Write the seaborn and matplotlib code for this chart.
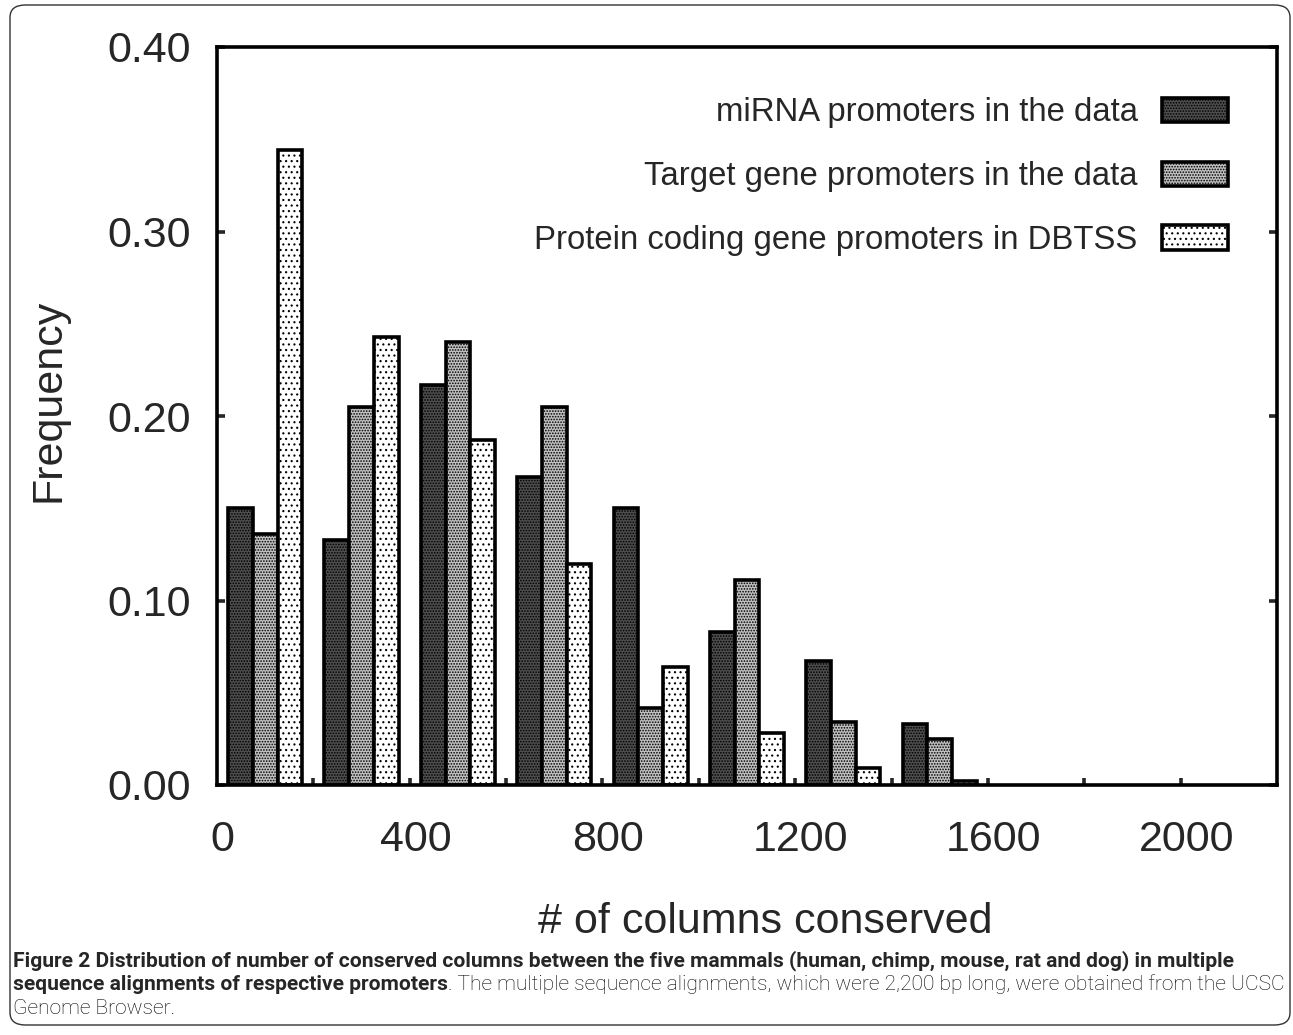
import seaborn as sns
import matplotlib.pyplot as plt
import pandas as pd
from matplotlib.patches import Patch, FancyBboxPatch

# Values (frequency per 200-column bin)
bins = ['0', '200', '400', '600', '800', '1000', '1200', '1400']
mirna = [0.150, 0.133, 0.217, 0.167, 0.150, 0.083, 0.067, 0.033]
target = [0.136, 0.205, 0.240, 0.205, 0.042, 0.111, 0.034, 0.025]
dbtss = [0.344, 0.243, 0.187, 0.120, 0.064, 0.028, 0.009, 0.002]
series_names = ['miRNA promoters in the data',
                'Target gene promoters in the data',
                'Protein coding gene promoters in DBTSS']
xtick_labels = ['0', '400', '800', '1200', '1600', '2000']
ytick_values = [0.0, 0.1, 0.2, 0.3, 0.4]

caption_bold1 = ('Figure 2 Distribution of number of conserved columns between the five mammals '
                 '(human, chimp, mouse, rat and dog) in multiple')
caption_bold2 = 'sequence alignments of respective promoters'
caption_rest2 = ('. The multiple sequence alignments, which were 2,200 bp long, were obtained '
                 'from the UCSC')
caption_rest3 = 'Genome Browser.'

# Long table for seaborn
df = pd.DataFrame({
    'bin': bins * 3,
    'freq': mirna + target + dbtss,
    'series': [series_names[0]] * len(bins) + [series_names[1]] * len(bins) + [series_names[2]] * len(bins),
})

sns.set_style('white')
plt.rcParams['font.family'] = ['Liberation Sans', 'DejaVu Sans']
plt.rcParams['hatch.color'] = 'black'
plt.rcParams['hatch.linewidth'] = 0.8

fills = ['#4e4e4e', '#c0c0c0', '#ffffff']
hatches = ['......', '......', '...']
lw = 2.6

fig = plt.figure(figsize=(12.93, 10.35), dpi=100)
ax = fig.add_axes([217 / 1293, 1 - 785 / 1035, (1277 - 217) / 1293, (785 - 47) / 1035])

sns.barplot(data=df, x='bin', y='freq', hue='series', hue_order=series_names,
            palette=fills, saturation=1, width=0.77, edgecolor='black',
            linewidth=lw, legend=False, ax=ax)

for cont, h in zip(ax.containers, hatches):
    for bar in cont:
        bar.set_hatch(h)

# axes look (gnuplot style)
ax.set_xlim(-0.5, 10.5)
ax.set_ylim(0, 0.4)
for s in ax.spines.values():
    s.set_visible(True)
    s.set_linewidth(lw)
    s.set_color('black')

ax.set_xticks([int(v) / 200 - 0.44 for v in xtick_labels])
ax.set_xticklabels(xtick_labels)
ax.set_xticks([i + 0.5 for i in range(10)], minor=True)
ax.tick_params(axis='x', which='major', length=0, pad=25, labelsize=31)
ax.tick_params(axis='x', which='minor', direction='in', length=5, width=lw, bottom=True)

ax.set_yticks(ytick_values)
ax.set_yticklabels(['%.2f' % v for v in ytick_values])
ax.tick_params(axis='y', direction='in', length=6, width=lw, left=True, right=True,
               pad=19, labelsize=31)

ax.set_xlabel('')
ax.set_ylabel('')
fig.text(765 / 1293, 1 - 933 / 1035, '# of columns conserved', fontsize=31,
         ha='center', va='baseline')
fig.text(48 / 1293, 1 - 400 / 1035, 'Frequency', fontsize=31, rotation=90,
         ha='center', va='center')

# legend: text on the left, swatch on the right
handles = [Patch(facecolor=c, edgecolor='black', linewidth=lw, hatch=h)
           for c, h in zip(fills, hatches)]
ax.legend(handles, series_names, loc='upper right', bbox_to_anchor=(0.954, 0.932),
          markerfirst=False, frameon=False, fontsize=23.7, handlelength=2.0,
          handleheight=0.75, handletextpad=0.75, labelspacing=1.0,
          borderpad=0, borderaxespad=0)

# caption under the chart, sized so the widest line fits the frame
cap_font = ['Roboto', 'DejaVu Sans']
renderer = fig.canvas.get_renderer()
t1 = fig.text(13 / 1293, 1 - 966 / 1035, caption_bold1, fontsize=14,
              fontweight='bold', family=cap_font, va='baseline')
t2 = fig.text(13 / 1293, 1 - 990 / 1035, caption_bold2, fontsize=14,
              fontweight='bold', family=cap_font, va='baseline')
t2b = ax.annotate(caption_rest2, xy=(1, 0), xycoords=t2, va='bottom', ha='left',
                  fontsize=14, family=cap_font, fontweight='light', color='black',
                  annotation_clip=False)
w1 = t1.get_window_extent(renderer).width
w2 = t2.get_window_extent(renderer).width + t2b.get_window_extent(renderer).width
cap_size = 14 * 1272 / max(w1, w2)
for t in (t1, t2, t2b):
    t.set_fontsize(cap_size)
fig.text(13 / 1293, 1 - 1014 / 1035, caption_rest3, fontsize=cap_size, family=cap_font,
         fontweight='light', va='baseline', color='black')

# rounded frame around the whole figure
fig.patches.append(FancyBboxPatch((10 / 1293, 10 / 1035), 1280 / 1293, 1020 / 1035,
                                  boxstyle='round,pad=0,rounding_size=0.012',
                                  transform=fig.transFigure, fill=False,
                                  edgecolor='#333333', linewidth=1.0))

plt.savefig('out.png', dpi=100)
